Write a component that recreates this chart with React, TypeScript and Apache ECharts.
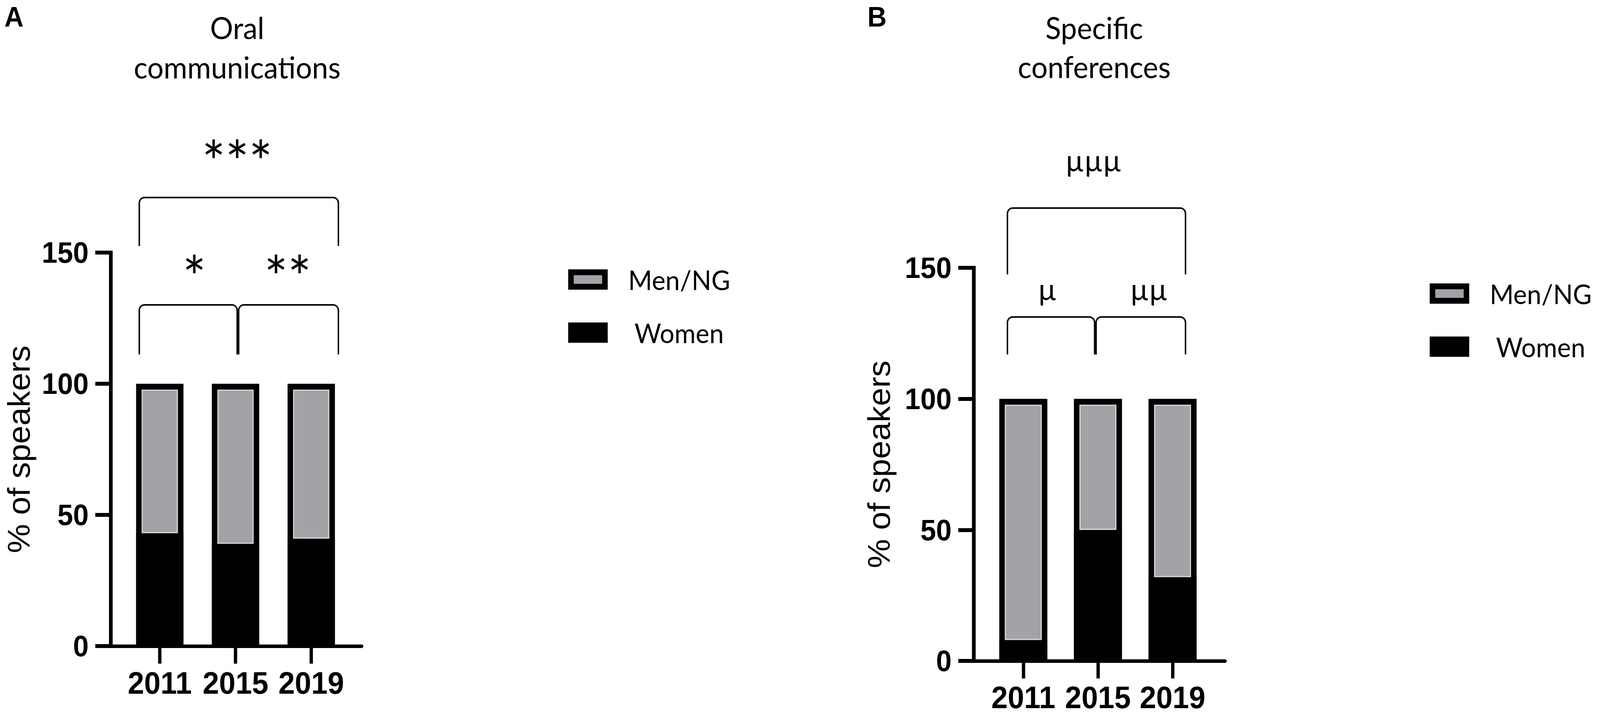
import React, { useEffect, useRef } from 'react';
import * as echarts from 'echarts';

// ---------- data ----------
const categories = ['2011', '2015', '2019'];
const oralWomen = [43, 39, 41];
const oralMen = [57, 61, 59];
const confWomen = [8, 50, 32];
const confMen = [92, 50, 68];
const yMin = 0;
const yMax = 150;
const yInterval = 50;
const legendNames = ['Men/NG', 'Women'];
const yTitle = '% of speakers';
const titleA = ['Oral', 'communications'];
const titleB = ['Specific', 'conferences'];
const sigA = ['***', '*', '**'];
const sigB = ['\u00B5\u00B5\u00B5', '\u00B5', '\u00B5\u00B5'];
const panelLetters = ['A', 'B'];

// ---------- style ----------
const W = 4331;
const H = 1829;
const GRAY = '#a3a2a7';
const SANS = '"Liberation Sans", Arial, sans-serif';
const HUMAN = 'Lato, "Open Sans", sans-serif';
const BORDER = 15;

const A = {
  gridLeft: 330, gridWidth: 615, top: 647, height: 1008,
  axisX: 300, axisEnd: 979, barW: 128, nameGap: 214, labelMargin: 64,
  legendLeft: 1538, legendTop: 680,
  titleX: 642, titleY2: 201, letterX: 12,
  sigAllY: 412, sigPairY: 707, sigAllX: 642, sigLX: 526, sigRX: 779,
  sigFont: 150,
  br: { x1: 377, xm: 642, xm2: 646, x2: 916, topY: 506, topBottom: 630, lowY: 781, lowBottom: 908 },
};
const B = {
  gridLeft: 2669, gridWidth: 606, top: 686, height: 1007,
  axisX: 2636, axisEnd: 3316, barW: 130, nameGap: 222, labelMargin: 63,
  legendLeft: 3870, legendTop: 716,
  titleX: 2962, titleY2: 200, letterX: 2348,
  sigAllY: 409, sigPairY: 739, sigAllX: 2960, sigLX: 2835, sigRX: 3110,
  sigFont: 78,
  br: { x1: 2727, xm: 2963, xm2: 2967, x2: 3209, topY: 533, topBottom: 703, lowY: 812, lowBottom: 908 },
};

function bracketPoints(x1: number, x2: number, yTop: number, yBottom: number, r = 14) {
  const pts: number[][] = [[x1, yBottom]];
  for (let k = 0; k <= 6; k++) {
    const t = Math.PI + (Math.PI / 2) * (k / 6);
    pts.push([x1 + r + r * Math.cos(t), yTop + r + r * Math.sin(t)]);
  }
  for (let k = 0; k <= 6; k++) {
    const t = -Math.PI / 2 + (Math.PI / 2) * (k / 6);
    pts.push([x2 - r + r * Math.cos(t), yTop + r + r * Math.sin(t)]);
  }
  pts.push([x2, yBottom]);
  return pts;
}

function bracket(x1: number, x2: number, yTop: number, yBottom: number) {
  return {
    type: 'polyline',
    silent: true,
    shape: { points: bracketPoints(x1, x2, yTop, yBottom) },
    style: { stroke: '#000', lineWidth: 4, fill: 'none' },
  };
}

function text(str: string, x: number, y: number, size: number, family: string, weight = 'normal', align = 'center', lineHeight?: number) {
  return {
    type: 'text',
    silent: true,
    x,
    y,
    style: {
      text: str,
      fontSize: size,
      fontFamily: family,
      fontWeight: weight,
      lineHeight: lineHeight ?? size,
      fill: '#000',
      align,
      verticalAlign: 'middle',
      textAlign: align,
      textVerticalAlign: 'middle',
    },
  };
}

function panelGraphics(P: any, title: string[], sig: string[], letter: string) {
  const titleFont = 78;
  const sh = 0.387 * titleFont;
  const letterFont = 72;
  return [
    text(letter, P.letterX, 68 - 0.3465 * letterFont, letterFont, SANS, 'bold', 'left', 58),
    text(title[0], P.titleX, 100 - sh, titleFont, HUMAN),
    text(title[1], P.titleX, P.titleY2 - sh, titleFont, HUMAN),
    text(sig[0], P.sigAllX, P.sigAllY, P.sigFont, HUMAN),
    text(sig[1], P.sigLX, P.sigPairY, P.sigFont, HUMAN),
    text(sig[2], P.sigRX, P.sigPairY, P.sigFont, HUMAN),
    bracket(P.br.x1, P.br.x2, P.br.topY, P.br.topBottom),
    bracket(P.br.x1, P.br.xm, P.br.lowY, P.br.lowBottom),
    bracket(P.br.xm2, P.br.x2, P.br.lowY, P.br.lowBottom),
  ];
}

function outlineSeries(xIdx: number, yIdx: number, women: number[], men: number[], outer: number) {
  const bw = BORDER;
  return {
    type: 'custom',
    name: 'outline',
    xAxisIndex: xIdx,
    yAxisIndex: yIdx,
    z: 3,
    silent: true,
    data: women.map((w, i) => [i, w + men[i], w]),
    renderItem: (_params: any, api: any) => {
      const i = api.value(0);
      const top = api.coord([i, api.value(1)]);
      const mid = api.coord([i, api.value(2)]);
      const base = api.coord([i, 0]);
      const cx = top[0];
      const w = outer - bw;
      return {
        type: 'group',
        children: [
          {
            type: 'rect',
            shape: { x: cx - w / 2, y: top[1] + bw / 2, width: w, height: base[1] - top[1] - bw },
            style: { fill: 'none', stroke: '#000', lineWidth: bw },
          },
          {
            type: 'rect',
            shape: {
              x: cx - outer / 2 + bw + 1.5,
              y: top[1] + bw + 1.5,
              width: outer - 2 * bw - 3,
              height: Math.max(0, mid[1] - top[1] - bw - 3),
            },
            style: { fill: 'none', stroke: '#d6d6d8', lineWidth: 3 },
          },
        ],
      };
    },
  };
}

function legendFor(P: any) {
  return {
    orient: 'vertical',
    left: P.legendLeft,
    top: P.legendTop,
    icon: 'rect',
    itemWidth: 92,
    itemHeight: 37,
    itemGap: 64,
    selectedMode: false,
    padding: 0,
    textStyle: { fontFamily: HUMAN, fontSize: 70, lineHeight: 72, color: '#000' },
    data: [
      {
        name: legendNames[0],
        itemStyle: { color: GRAY, borderColor: '#000', borderWidth: BORDER },
        textStyle: { padding: [0, 0, 0, 58] },
      },
      {
        name: legendNames[1],
        itemStyle: { color: '#000', borderColor: '#000', borderWidth: BORDER },
        textStyle: { padding: [0, 0, 0, 75] },
      },
    ],
  };
}

function gridsFor(P: any) {
  return [
    { left: P.gridLeft, width: P.gridWidth, top: P.top, height: P.height },
    { left: P.axisX, width: P.axisEnd - P.axisX, top: P.top, height: P.height },
  ];
}

function xAxesFor(P: any, gi: number) {
  return [
    {
      gridIndex: gi,
      type: 'category',
      data: categories,
      axisLine: { show: false },
      axisTick: { show: true, interval: 0, alignWithLabel: true, length: 45, lineStyle: { color: '#000', width: 9 } },
      axisLabel: {
        interval: 0,
        margin: P.labelMargin,
        fontSize: 80,
        lineHeight: 60,
        fontWeight: 'bold',
        fontFamily: SANS,
        color: '#000',
      },
      splitLine: { show: false },
    },
    {
      gridIndex: gi + 1,
      type: 'value',
      min: 0,
      max: 1,
      axisLine: { show: true, onZero: false, lineStyle: { color: '#000', width: 9 } },
      axisTick: { show: false },
      axisLabel: { show: false },
      splitLine: { show: false },
    },
  ];
}

function yAxesFor(P: any, gi: number) {
  return [
    {
      gridIndex: gi,
      type: 'value',
      min: yMin,
      max: yMax,
      interval: yInterval,
      offset: P.gridLeft - P.axisX,
      axisLine: { show: true, lineStyle: { color: '#000', width: 10, cap: 'square' } },
      axisTick: { show: true, length: 42, lineStyle: { color: '#000', width: 10 } },
      axisLabel: { margin: 60, fontSize: 76, fontWeight: 'bold', fontFamily: SANS, color: '#000' },
      splitLine: { show: false },
      name: yTitle,
      nameLocation: 'middle',
      nameGap: P.nameGap,
      nameTextStyle: { fontSize: 84, lineHeight: 70, fontFamily: SANS, color: '#000' },
    },
    { gridIndex: gi + 1, type: 'value', min: 0, max: 1, show: false },
  ];
}

function barSeries(xIdx: number, yIdx: number, stack: string, women: number[], men: number[], barW: number) {
  return [
    {
      type: 'bar',
      name: legendNames[1],
      xAxisIndex: xIdx,
      yAxisIndex: yIdx,
      stack,
      barWidth: barW,
      data: women,
      itemStyle: { color: '#000' },
      silent: true,
    },
    {
      type: 'bar',
      name: legendNames[0],
      xAxisIndex: xIdx,
      yAxisIndex: yIdx,
      stack,
      barWidth: barW,
      data: men,
      itemStyle: { color: GRAY },
      silent: true,
    },
    outlineSeries(xIdx, yIdx, women, men, barW),
  ];
}

export default function App() {
  const outerRef = useRef<HTMLDivElement>(null);
  const ref = useRef<HTMLDivElement>(null);
  useEffect(() => {
    document.documentElement.style.margin = '0';
    document.documentElement.style.overflow = 'hidden';
    document.body.style.margin = '0';
    document.body.style.overflow = 'hidden';
    if (!ref.current || !outerRef.current) return;
    const vw = window.innerWidth || W;
    const vh = window.innerHeight || H;
    const sx = vw / W;
    const sy = vh / H;
    outerRef.current.style.width = `${vw}px`;
    outerRef.current.style.height = `${vh}px`;
    ref.current.style.transform = `scale(${sx}, ${sy})`;
    const chart = echarts.init(ref.current, undefined, { renderer: 'svg' });
    chart.setOption({
      animation: false,
      backgroundColor: '#fff',
      textStyle: { fontFamily: SANS },
      grid: [...gridsFor(A), ...gridsFor(B)],
      xAxis: [...xAxesFor(A, 0), ...xAxesFor(B, 2)],
      yAxis: [...yAxesFor(A, 0), ...yAxesFor(B, 2)],
      legend: [legendFor(A), legendFor(B)],
      series: [
        ...barSeries(0, 0, 'A', oralWomen, oralMen, A.barW),
        ...barSeries(2, 2, 'B', confWomen, confMen, B.barW),
      ],
      graphic: [
        ...panelGraphics(A, titleA, sigA, panelLetters[0]),
        ...panelGraphics(B, titleB, sigB, panelLetters[1]),
      ],
    });
    return () => chart.dispose();
  }, []);
  return (
    <div ref={outerRef} style={{ width: W, height: H, overflow: 'hidden', position: 'relative' }}>
      <div ref={ref} style={{ width: W, height: H, transformOrigin: '0 0' }} />
    </div>
  );
}
